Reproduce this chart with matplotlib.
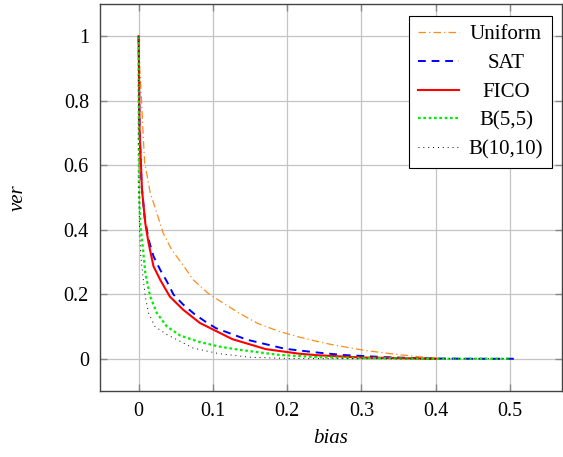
import matplotlib
matplotlib.use('Agg')
import matplotlib.pyplot as plt

# values
uniform_x = [0, 0.0015, 0.0036, 0.008, 0.0156, 0.0245, 0.033, 0.0445, 0.06, 0.0735, 0.093, 0.1,
             0.135, 0.16, 0.189, 0.215, 0.24, 0.26, 0.304, 0.349, 0.38, 0.41]
uniform_y = [1, 0.90, 0.815, 0.61, 0.515, 0.452, 0.39, 0.338, 0.29, 0.245, 0.204, 0.193,
             0.142, 0.11, 0.085, 0.068, 0.054, 0.044, 0.026, 0.013, 0.006, 0.0]

sat_x = [0, 0.0013, 0.004, 0.008, 0.0134, 0.02, 0.029, 0.038, 0.047, 0.06, 0.076, 0.09, 0.104,
         0.146, 0.197, 0.2375, 0.273, 0.331, 0.39, 0.45, 0.509]
sat_y = [1, 0.71, 0.54, 0.44, 0.37, 0.318, 0.276, 0.24, 0.199, 0.168, 0.137, 0.115, 0.095,
         0.059, 0.031, 0.02, 0.012, 0.005, 0.001, 0.0, 0.0]

fico_x = [0, 0.0013, 0.0045, 0.009, 0.0134, 0.020, 0.029, 0.042, 0.060, 0.0825, 0.126, 0.171,
          0.215, 0.24, 0.3, 0.4]
fico_y = [1, 0.71, 0.525, 0.42, 0.359, 0.287, 0.245, 0.193, 0.152, 0.111, 0.061, 0.03,
          0.016, 0.011, 0.004, 0.0]

b55_x = [0, 0.0003, 0.002, 0.006, 0.009, 0.0156, 0.0245, 0.038, 0.056, 0.082, 0.108, 0.135,
         0.189, 0.24, 0.3, 0.4, 0.5]
b55_y = [1, 0.55, 0.42, 0.338, 0.266, 0.193, 0.142, 0.10, 0.072, 0.052, 0.038, 0.028,
         0.012, 0.005, 0.002, 0.0, 0.0]

b1010_x = [0, 0.0005, 0.0013, 0.003, 0.0058, 0.009, 0.0134, 0.022, 0.038, 0.056, 0.0735, 0.108,
           0.148, 0.2, 0.3, 0.4, 0.5]
b1010_y = [1, 0.5, 0.40, 0.318, 0.256, 0.193, 0.142, 0.10, 0.075, 0.054, 0.033, 0.016,
           0.005, 0.001, 0.0, 0.0, 0.0]

xticks = [0, 0.1, 0.2, 0.3, 0.4, 0.5]
yticks = [0, 0.2, 0.4, 0.6, 0.8, 1]

plt.rcParams['font.family'] = ['Liberation Serif', 'DejaVu Serif']

fig = plt.figure(figsize=(5.63, 4.57), dpi=100)
ax = fig.add_axes([0.1776, 0.1444, 0.8206, 0.8468])

ax.plot(uniform_x, uniform_y, color='#ff8c1a', lw=0.9, dashes=(6, 2.5, 1, 2.5), label='Uniform')
ax.plot(sat_x, sat_y, color='#0000ff', lw=1.4, dashes=(4, 3), label='SAT')
ax.plot(fico_x, fico_y, color='#ff0000', lw=1.5, label='FICO')
ax.plot(b55_x, b55_y, color='#00ee00', lw=1.6, dashes=(1.2, 1.2), label='B(5,5)')
ax.plot(b1010_x, b1010_y, color='black', lw=0.7, dashes=(1, 4), label='B(10,10)')

ax.set_xlim(-0.052, 0.57)
ax.set_ylim(-0.1, 1.1)
ax.set_xticks(xticks)
ax.set_xticklabels(['0', '0.1', '0.2', '0.3', '0.4', '0.5'])
ax.set_yticks(yticks)
ax.set_yticklabels(['0', '0.2', '0.4', '0.6', '0.8', '1'])
ax.grid(True, color='#c4c4c4', lw=0.9)
ax.set_axisbelow(True)
ax.tick_params(direction='in', top=True, right=True, length=5, width=1, color='#888888',
               labelsize=14.5, pad=8)
for s in ax.spines.values():
    s.set_color('#444444')
    s.set_linewidth(1)

ax.set_xlabel('bias', fontsize=15, style='italic', labelpad=6)
ax.set_ylabel('ver', fontsize=15, style='italic', labelpad=26)

leg = ax.legend(loc='upper right', fontsize=15, fancybox=False, framealpha=1,
                edgecolor='black', handlelength=2.0, handletextpad=0.45, borderpad=0.4,
                labelspacing=0.45, bbox_to_anchor=(1.0, 0.996))
leg.get_frame().set_linewidth(0.8)

# centre the legend texts in their column, like pgfplots does
fig.canvas.draw()
renderer = fig.canvas.get_renderer()
texts = leg.get_texts()
widths = [t.get_window_extent(renderer).width for t in texts]
wmax = max(widths)
for t, w in zip(texts, widths):
    t.set_x((wmax - w) / 2)

fig.savefig('out.png', dpi=100)
